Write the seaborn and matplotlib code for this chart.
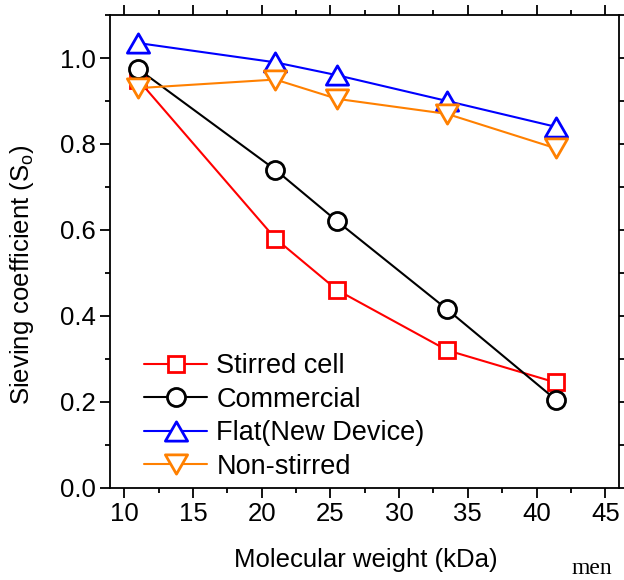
import numpy as np
import pandas as pd
import matplotlib
matplotlib.use("Agg")
import matplotlib.pyplot as plt
from matplotlib.path import Path
from matplotlib.ticker import MultipleLocator
import seaborn as sns

# ---- data ----
mw = [11, 21, 25.5, 33.5, 41.4]
stirred = [0.95, 0.58, 0.46, 0.32, 0.245]
commercial = [0.975, 0.74, 0.62, 0.415, 0.205]
flat = [1.035, 0.99, 0.96, 0.90, 0.84]
nonstirred = [0.93, 0.95, 0.905, 0.87, 0.79]
labels = ["Stirred cell", "Commercial", "Flat(New Device)", "Non-stirred"]
colors = ["#FF0000", "#000000", "#0000FF", "#FF8000"]
xticks = [10, 15, 20, 25, 30, 35, 40, 45]
yticks = [0.0, 0.2, 0.4, 0.6, 0.8, 1.0]

sns.set_style("ticks")
plt.rcParams["font.family"] = ["Liberation Sans", "DejaVu Sans"]
plt.rcParams["mathtext.default"] = "regular"
plt.rcParams["text.color"] = "black"
plt.rcParams["axes.labelcolor"] = "black"
plt.rcParams["xtick.color"] = "black"
plt.rcParams["ytick.color"] = "black"

tri_up = Path([(-1, -0.866), (1, -0.866), (0, 0.866), (-1, -0.866)], closed=True)
tri_dn = Path([(-1, 0.866), (1, 0.866), (0, -0.866), (-1, 0.866)], closed=True)
markers = ["s", "o", tri_up, tri_dn]
msizes = [11.5, 13, 16, 16]

fig = plt.figure(figsize=(6.24, 5.8), dpi=100)
ax = fig.add_axes([0.177, 0.159, 0.815, 0.815])

series = [stirred, commercial, flat, nonstirred]
handles = []
for lab, vals, c, m, ms in zip(labels, series, colors, markers, msizes):
    df = pd.DataFrame({"x": mw, "y": vals})
    sns.lineplot(data=df, x="x", y="y", ax=ax, color=c, marker=m,
                 markersize=ms, markerfacecolor="white", markeredgecolor=c,
                 markeredgewidth=2.0, linewidth=1.5, legend=False)
    handles.append(ax.lines[-1])

ax.set_xlim(9, 46)
ax.set_ylim(0, 1.1)
ax.set_xticks(xticks)
ax.set_yticks(yticks)
ax.xaxis.set_minor_locator(MultipleLocator(2.5))
ax.yaxis.set_minor_locator(MultipleLocator(0.1))
ax.set_yticklabels([f"{v:.1f}" for v in yticks])
ax.tick_params(which="both", direction="out", top=True, right=True,
               width=1.3, labelsize=18.5, color="black", labelcolor="black",
               pad=3.5)
ax.tick_params(which="major", length=7)
ax.tick_params(which="minor", length=3.8)
for s in ax.spines.values():
    s.set_visible(True)
    s.set_linewidth(1.3)
    s.set_color("black")

ax.set_xlabel("Molecular weight (kDa)", fontsize=18.5, color="black")
ax.set_ylabel("Sieving coefficient (S$_\\mathregular{o}$)", fontsize=18.5,
              color="black")
ax.xaxis.set_label_coords(0.5016, -0.127)
ax.yaxis.set_label_coords(-0.146, 0.4506)

leg = ax.legend(handles=handles, labels=labels, loc="lower left",
                bbox_to_anchor=(0.04, -0.012), frameon=False, fontsize=19.5,
                handlelength=2.33, handletextpad=0.33, labelspacing=0.28,
                borderaxespad=0.1)

fig.text(572 / 624, 1.5 / 580, "men", family="Liberation Serif", fontsize=17,
         ha="left", va="bottom", color="black")

fig.savefig("out.png", dpi=100)
